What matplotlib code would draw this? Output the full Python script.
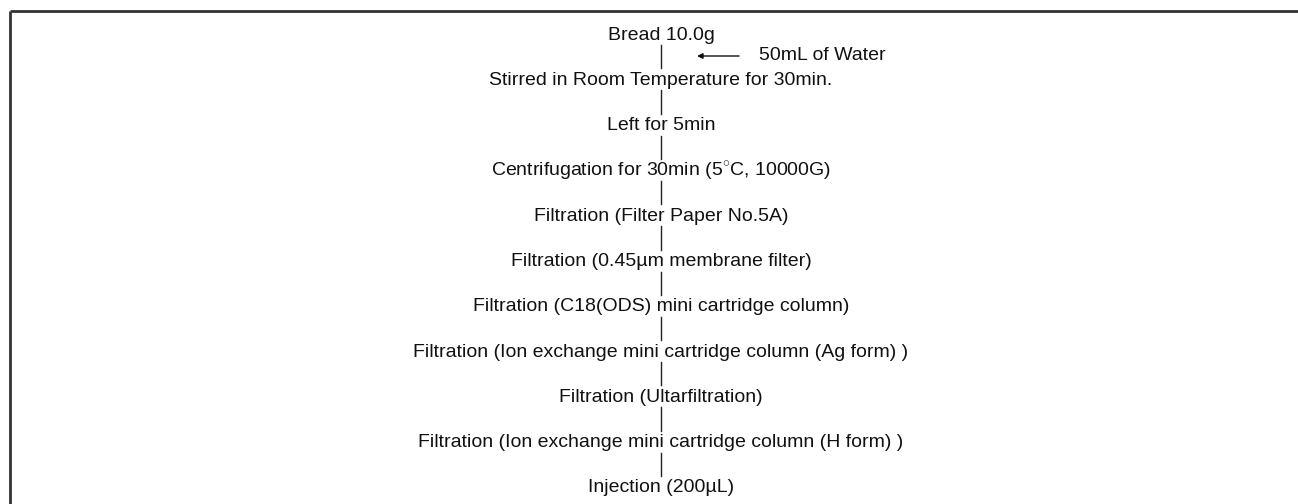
import matplotlib
matplotlib.use("Agg")
import matplotlib.pyplot as plt

steps = [
    "Bread 10.0g",
    "Stirred in Room Temperature for 30min.",
    "Left for 5min",
    "Centrifugation for 30min (5$^{\\circ}$C, 10000G)",
    "Filtration (Filter Paper No.5A)",
    "Filtration (0.45\u00b5m membrane filter)",
    "Filtration (C18(ODS) mini cartridge column)",
    "Filtration (Ion exchange mini cartridge column (Ag form) )",
    "Filtration (Ultarfiltration)",
    "Filtration (Ion exchange mini cartridge column (H form) )",
    "Injection (200\u00b5L)",
]
side_note = "50mL of Water"
side_step = 0  # added between step 0 and step 1

plt.rcParams['font.family'] = ['Liberation Sans', 'DejaVu Sans']
plt.rcParams['mathtext.fontset'] = 'custom'
plt.rcParams['mathtext.rm'] = 'Liberation Sans'

fig = plt.figure(figsize=(12.98, 5.04), dpi=100)
ax = fig.add_axes([0, 0, 1, 1])
ax.set_xlim(0, 1298)
ax.set_ylim(504, 0)
ax.axis('off')

cx = 661
y0 = 35
dy = 45.3

for i, s in enumerate(steps):
    y = y0 + i * dy
    ax.text(cx, y, s, ha='center', va='center', fontsize=14, color='#111111')
    if i < len(steps) - 1:
        ax.plot([cx, cx], [y + 10, y + dy - 12], color='#222222', lw=1)

# side input arrow
ya = y0 + side_step * dy + 21
ax.annotate("", xy=(697, ya), xytext=(739, ya),
            arrowprops=dict(arrowstyle='-|>', color='#111111', lw=1,
                            mutation_scale=8, shrinkA=0, shrinkB=0))
ax.text(759, ya, side_note, ha='left', va='center', fontsize=14, color='#111111')

# frame: top and left only
ax.plot([10, 1298], [11, 11], color='#333333', lw=2, solid_capstyle='butt')
ax.plot([10, 10], [11, 504], color='#333333', lw=2, solid_capstyle='butt')

fig.savefig("out.png", dpi=100)
